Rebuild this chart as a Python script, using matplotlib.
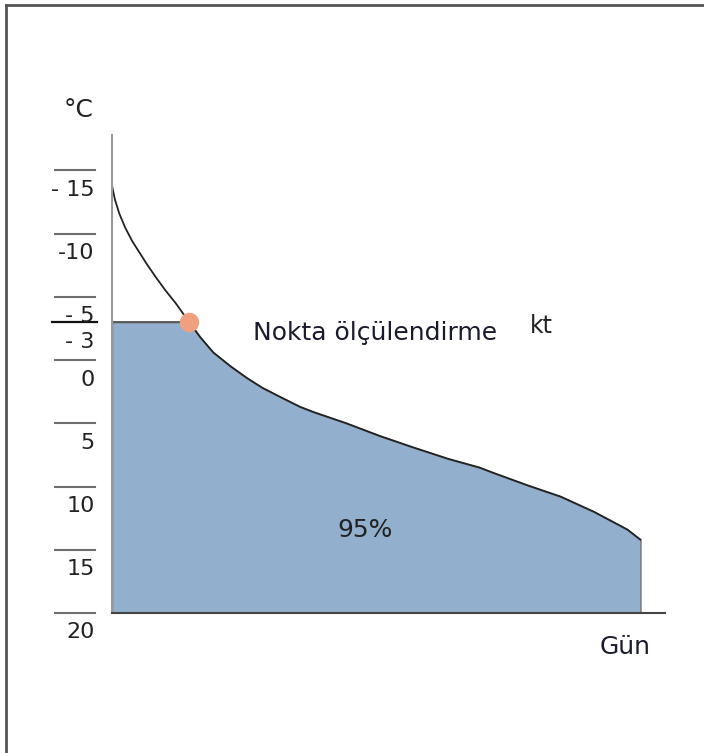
import numpy as np
import matplotlib
matplotlib.use("Agg")
import matplotlib.pyplot as plt
from matplotlib.lines import Line2D

# 資料：日數與溫度
days = [0, 2, 5, 9, 14, 19, 24, 30, 37, 44, 49, 54, 61, 70, 82, 93, 104, 116, 130, 139,
        162, 185, 208, 232, 254, 263, 287, 310, 333, 356, 365]
temps = [-13.8, -12.7, -11.6, -10.5, -9.4, -8.5, -7.6, -6.6, -5.5, -4.5, -3.7, -2.9, -1.8, -0.6, 0.5,
         1.4, 2.2, 2.9, 3.7, 4.1, 5.0, 6.0, 6.9, 7.8, 8.5, 8.9, 9.9, 10.8, 12.0, 13.4, 14.2]

design_temp = -3
tick_values = [-15, -10, -5, -3, 0, 5, 10, 15, 20]
tick_labels = ["- 15", "-10", "- 5", "- 3", "0", "5", "10", "15", "20"]

plt.rcParams["font.family"] = ["DejaVu Sans"]

fig = plt.figure(figsize=(7.04, 7.53), dpi=100)
ax = fig.add_axes([112 / 704, 140 / 753, 553 / 704, 478 / 753])

# 設計溫度與曲線的交點
cross_day = np.interp(design_temp, temps, days)
fill_days = np.concatenate([[0], [cross_day], [d for d in days if d > cross_day]])
fill_temps = np.concatenate([[design_temp], [design_temp], [t for d, t in zip(days, temps) if d > cross_day]])

ax.fill_between(fill_days, fill_temps, 20, facecolor="#92afce", edgecolor="#7a7f88", linewidth=1.2, zorder=1)
ax.plot(days, temps, color="#222222", linewidth=1.3, solid_joinstyle="round", zorder=3)
ax.plot([0, cross_day], [design_temp, design_temp], color="#555555", linewidth=1.3, zorder=3)
ax.plot(cross_day, design_temp, "o", color="#f0a07e", markersize=13, zorder=4)

ax.set_xlim(0, 382)
ax.set_ylim(20, -17.8)

# 軸線
for side in ["top", "right"]:
    ax.spines[side].set_visible(False)
ax.spines["left"].set_color("#9a9a9a")
ax.spines["left"].set_linewidth(1.5)
ax.spines["bottom"].set_color("#444444")
ax.spines["bottom"].set_linewidth(1.5)
ax.spines["left"].set_zorder(5)
ax.spines["bottom"].set_zorder(5)
ax.set_xticks([])
ax.set_yticks([])

# 刻度：橫線在上、數字在下
ytrans = ax.get_yaxis_transform()
for v, lab in zip(tick_values, tick_labels):
    if v == design_temp:
        ax.plot([-0.108, -0.027], [v, v], color="#111111", linewidth=1.6, transform=ytrans, clip_on=False)
    else:
        ax.plot([-0.103, -0.031], [v, v], color="#6e6e6e", linewidth=1.5, transform=ytrans, clip_on=False)
    ax.annotate(lab, xy=(-0.031, v), xycoords=ytrans, xytext=(0, -14), textcoords="offset points",
                ha="right", va="center", fontsize=16, color="#222222")

ax.text(-0.033, 1.052, "°C", transform=ax.transAxes, ha="right", va="center", fontsize=18, color="#222222")
ax.text(0.255, 0.586, "Nokta ölçülendirme", transform=ax.transAxes, ha="left", va="center", fontsize=18, color="#1a1a2e")
ax.text(0.756, 0.600, "kt", transform=ax.transAxes, ha="left", va="center", fontsize=17, color="#222222")
ax.text(0.4575, 0.174, "95%", transform=ax.transAxes, ha="center", va="center", fontsize=18, color="#222222")
ax.text(0.928, -0.071, "Gün", transform=ax.transAxes, ha="center", va="center", fontsize=18, color="#1a1a2e")

# 外框（只有上緣與左緣）
fig.add_artist(Line2D([6 / 704, 1], [1 - 5 / 753, 1 - 5 / 753], transform=fig.transFigure, color="#555555", linewidth=2))
fig.add_artist(Line2D([6 / 704, 6 / 704], [0, 1 - 5 / 753], transform=fig.transFigure, color="#555555", linewidth=2))

fig.savefig("out.png", dpi=100)
